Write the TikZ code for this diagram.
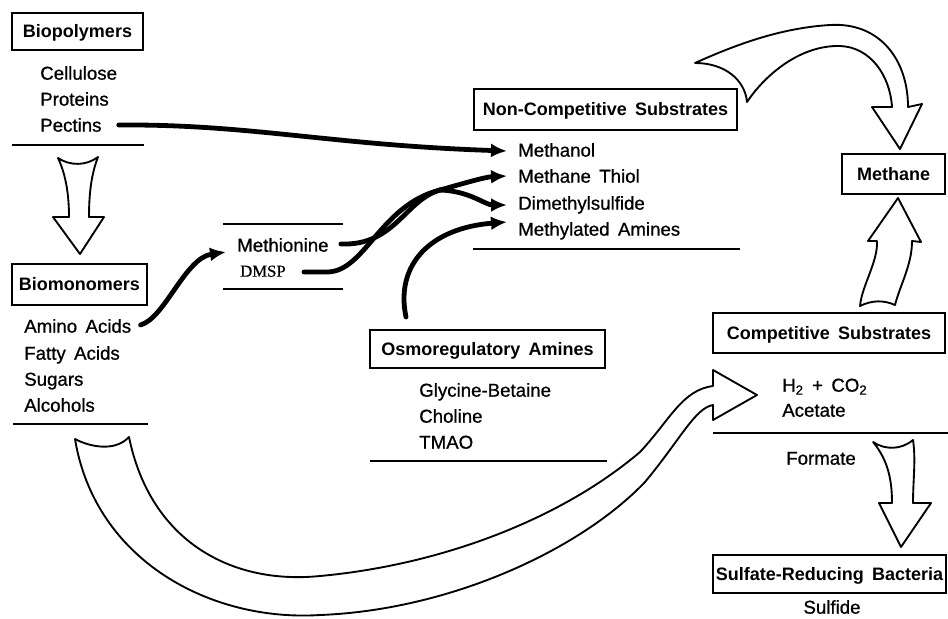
\documentclass[tikz,border=0pt]{standalone}
\usepackage{fontspec}
\setmainfont{Liberation Sans}
\newfontfamily\itemfont[FakeBold=0.8]{Liberation Sans}
\newfontfamily\dmspfont[FakeBold=0.5]{Liberation Serif}
\usetikzlibrary{arrows.meta,calc}
\newcommand\wsp{\hspace{0.45em}}
\begin{document}
\begin{tikzpicture}[x=0.75pt,y=-0.75pt,
  box/.style={draw,line width=1.5pt,inner sep=0pt,font=\bfseries\fontsize{13.5}{16}\selectfont,text height=9.7pt,text depth=0pt},
  item/.style={anchor=west,inner sep=0pt,font=\itemfont\fontsize{14}{17}\selectfont,text height=10pt,text depth=0pt},
  rule/.style={line width=1.8pt},
  thin arrow/.style={line width=3.6pt,line cap=round,-{Latex[length=12pt,width=10.5pt]}},
  thick line/.style={line width=3.6pt,line cap=round},
  hollow/.style={draw,fill=white,line width=1.4pt,line join=round}]
\useasboundingbox (0,0) rectangle (948,618);

% hollow arrows
\draw[hollow] (58,158) .. controls (70,166) and (86,166) .. (98,157) .. controls (91,175) and (89,195) .. (89,217) -- (104,217) -- (80,254) -- (53,217) -- (69,217) .. controls (69,195) and (66,175) .. (58,158) -- cycle;
\draw[hollow] (695,63) .. controls (735,45) and (780,28) .. (830,25) .. controls (880,22) and (908,60) .. (908,107) -- (922,104) -- (900,149) -- (872,107) -- (892,107) .. controls (890,75) and (870,47) .. (840,46) .. controls (800,45) and (765,75) .. (747,102) .. controls (745,80) and (725,63) .. (695,63) -- cycle;
\draw[hollow] (860,306) .. controls (872,300) and (884,300) .. (895,305) .. controls (900,285) and (912,265) .. (912,241) -- (921,242) -- (898,198) -- (868,241) -- (877,241) .. controls (878,262) and (862,285) .. (860,306) -- cycle;
\draw[hollow] (873,442) .. controls (885,450) and (901,450) .. (913,440) .. controls (916,460) and (913,480) .. (913,503) -- (931,503) -- (901,547) -- (879,503) -- (892,503) .. controls (892,480) and (888,460) .. (873,442) -- cycle;
\draw[hollow] (75,439) .. controls (90,447) and (115,452) .. (129,437) .. controls (150,540) and (230,585) .. (320,576) .. controls (440,565) and (560,520) .. (640,452) .. controls (670,420) and (682,390) .. (713,386) -- (713,370) -- (757,395) -- (713,420) -- (713,405) .. controls (695,408) and (680,440) .. (645,482) .. controls (580,550) and (450,610) .. (320,615) .. controls (210,622) and (95,560) .. (75,439) -- cycle;

% Biopolymers
\node[box,minimum width=98.25pt,minimum height=27.75pt] (bpoly) at (77.5,31.5) {Biopolymers};
\node[item] (cellulose) at (40,73) {Cellulose};
\node[item] (proteins) at (40,99) {Proteins};
\node[item] (pectins) at (40,125) {Pectins};
\draw[rule] (12,145) -- (144,145);

% Biomonomers
\node[box,minimum width=101.25pt,minimum height=30.75pt] (bmono) at (79.5,284.5) {Biomonomers};
\node[item] (amino) at (24,326) {Amino\wsp Acids};
\node[item] (fatty) at (24,353) {Fatty\wsp Acids};
\node[item] (sugars) at (24,379) {Sugars};
\node[item] (alcohols) at (24,405) {Alcohols};
\draw[rule] (13,424) -- (148,424);

% Methionine / DMSP
\draw[rule] (223,224) -- (343,224);
\node[item] (methionine) at (237,245) {Methionine};
\node[item,font=\dmspfont\fontsize{12.5}{15}\selectfont] (dmsp) at (240,270) {DMSP};
\draw[rule] (223,289) -- (343,289);

% Non-competitive
\node[box,minimum width=197.25pt,minimum height=30.75pt] (noncomp) at (605.5,109.5) {Non-Competitive\wsp Substrates};
\node[item] (methanol) at (518,150) {Methanol};
\node[item] (thiol) at (518,176) {Methane\wsp Thiol};
\node[item] (dms) at (518,203) {Dimethylsulfide};
\node[item] (mamines) at (518,229) {Methylated\wsp Amines};
\draw[rule] (473,249) -- (740,249);

% Osmoregulatory
\node[box,minimum width=176.25pt,minimum height=28.5pt] (osmo) at (487.5,349) {Osmoregulatory\wsp Amines};
\node[item] (glycine) at (419,390) {Glycine-Betaine};
\node[item] (choline) at (419,416) {Choline};
\node[item] (tmao) at (419,442) {TMAO};
\draw[rule] (370,461) -- (607,461);

% Right column
\node[box,minimum width=77.25pt,minimum height=30pt] (methane) at (893.5,174) {Methane};
\node[box,minimum width=174pt,minimum height=30pt] (comp) at (829,333) {Competitive\wsp Substrates};
\node[item] (h2) at (782,385) {H\textsubscript{2}\wsp+\wsp CO\textsubscript{2}};
\node[item] (acetate) at (782,410) {Acetate};
\draw[rule] (713,433) -- (948,433);
\node[item] (formate) at (786,458) {Formate};
\node[box,minimum width=174.75pt,minimum height=28.5pt] (srb) at (829.5,574) {Sulfate-Reducing\wsp Bacteria};
\node[item,anchor=center] (sulfide) at (832,607) {Sulfide};

% thin arrows
\draw[thin arrow] ($(pectins.east)+(17,0)$) .. controls (250,124) and (330,145) .. ($(methanol.west)+(-11,1)$);
\draw[thin arrow] ($(amino.east)+(9,-1)$) .. controls (165,318) and (185,258) .. ($(methionine.west)+(-11,7)$);
\coordinate (merge) at (440,190);
\draw[thick line] ($(methionine.east)+(12,-1)$) .. controls (395,246) and (405,200) .. (merge);
\draw[thick line] ($(dmsp.east)+(18,2)$) -- (327,272) .. controls (365,272) and (380,205) .. (merge);
\draw[thin arrow] (merge) .. controls (465,183) and (485,177) .. ($(thiol.west)+(-11,0)$);
\draw[thin arrow] (merge) .. controls (470,191) and (485,205) .. ($(dms.west)+(-11,2)$);
\draw[thin arrow] ($(osmo.north)+(-81.5,-12)$) .. controls (395,265) and (430,228) .. ($(mamines.west)+(-11,-7)$);
\end{tikzpicture}
\end{document}
